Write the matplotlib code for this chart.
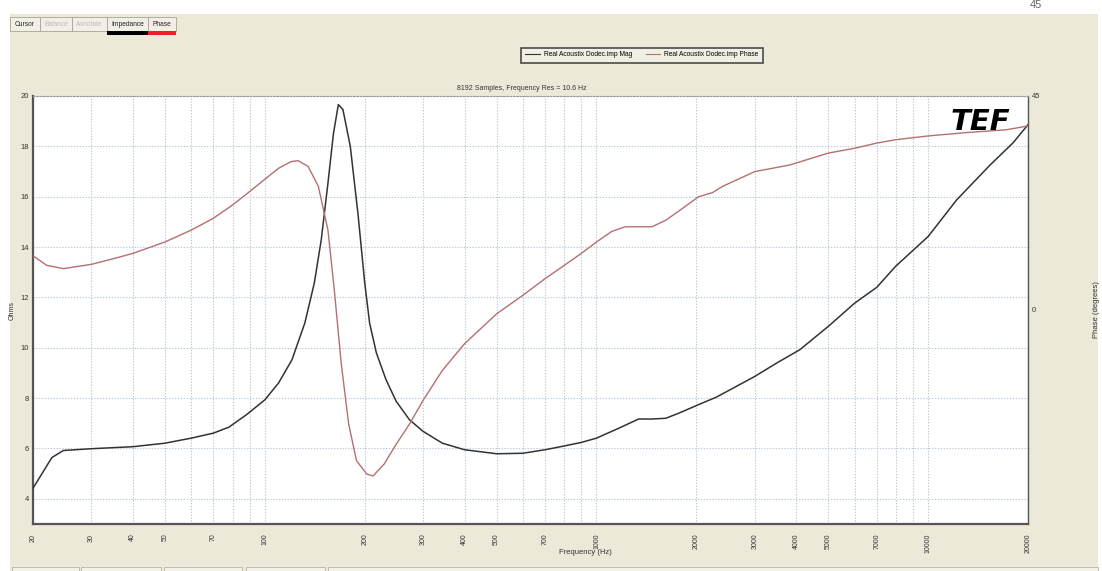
import matplotlib
matplotlib.use("Agg")
import matplotlib.pyplot as plt
from matplotlib.patches import Rectangle
from matplotlib.lines import Line2D
from matplotlib.ticker import FixedLocator, NullFormatter

plt.rcParams['font.family'] = ['Liberation Sans', 'DejaVu Sans']

# ---- data ----
mag_freq = [20, 22.8, 24.7, 30, 40, 50, 60, 70, 78, 88, 100, 110, 120.7, 132, 141,
            148, 155, 161, 166.6, 172, 181, 191, 200, 207, 217, 232, 249, 273, 300,
            343, 400, 500, 600, 700, 800, 900, 1000, 1170, 1340, 1470, 1618, 1770,
            2030, 2300, 3000, 3490, 4100, 5000, 6000, 7000, 7970, 10000, 12200,
            15400, 18000, 20000]
mag_ohms = [4.42, 5.64, 5.92, 5.99, 6.07, 6.21, 6.41, 6.61, 6.85, 7.34, 7.93, 8.6,
            9.52, 10.98, 12.57, 14.3, 16.54, 18.5, 19.66, 19.46, 18.0, 15.3, 12.6,
            10.98, 9.79, 8.73, 7.87, 7.14, 6.68, 6.21, 5.95, 5.79, 5.81, 5.95, 6.1,
            6.24, 6.41, 6.81, 7.17, 7.17, 7.2, 7.4, 7.74, 8.04, 8.86, 9.39, 9.92,
            10.85, 11.77, 12.4, 13.23, 14.42, 15.88, 17.27, 18.13, 18.86]

ph_freq = [20, 22, 24.7, 30, 35, 40, 50, 60, 70, 80, 90, 100, 110, 120, 126, 135,
           145, 155, 162, 170, 179, 189, 203, 212, 229, 249, 273, 300, 343, 400,
           500, 600, 700, 800, 900, 1000, 1110, 1220, 1310, 1470, 1620, 1820, 2030,
           2240, 2400, 3000, 3830, 5000, 6000, 7000, 7970, 10000, 13000, 17200, 20000]
ph_deg = [11.4, 9.4, 8.7, 9.6, 10.8, 11.9, 14.3, 16.8, 19.3, 22.1, 24.9, 27.5, 29.8,
          31.2, 31.4, 30.2, 26.0, 16.8, 4.2, -11.3, -24.0, -31.7, -34.5, -34.9,
          -32.4, -28.2, -24.0, -19.0, -12.7, -7.1, -0.8, 3.1, 6.6, 9.4, 11.9, 14.3,
          16.5, 17.5, 17.5, 17.5, 18.9, 21.4, 23.8, 24.7, 26.0, 29.1, 30.5, 33.0,
          34.0, 35.1, 35.8, 36.6, 37.3, 37.9, 38.7]

x_ticks = [20, 30, 40, 50, 70, 100, 200, 300, 400, 500, 700, 1000, 2000, 3000,
           4000, 5000, 7000, 10000, 20000]
x_grid = [20, 30, 40, 50, 60, 70, 80, 90, 100, 200, 300, 400, 500, 600, 700, 800,
          900, 1000, 2000, 3000, 4000, 5000, 6000, 7000, 8000, 9000, 10000, 20000]
y_ticks = [4, 6, 8, 10, 12, 14, 16, 18, 20]
ph_ticks = [0, 45]

series_names = ["Real Acoustix Dodec.imp Mag", "Real Acoustix Dodec.imp Phase"]
buttons = ["Cursor", "Balance", "Annotate", "Impedance", "Phase"]

# ---- figure ----
W, H = 1102, 571
fig = plt.figure(figsize=(W / 100, H / 100), dpi=100, facecolor='white')

def fx(px):
    return px / W

def fy(py):
    return 1 - py / H

beige = '#ece9d8'
fig.patches.append(Rectangle((fx(10), 0), fx(1098) - fx(10), fy(14), transform=fig.transFigure,
                             facecolor=beige, edgecolor='none', zorder=-10))

# page number
fig.text(fx(1036), fy(5), "45", fontsize=8, color='#666666', ha='center', va='center')

# buttons
btn_x = [10, 40, 72, 107, 148, 176]
for i, name in enumerate(buttons):
    x0, x1 = btn_x[i], btn_x[i + 1]
    fig.patches.append(Rectangle((fx(x0), fy(31)), fx(x1 - x0), (31 - 17) / H,
                                 transform=fig.transFigure, facecolor='#f1efe6',
                                 edgecolor='#a8a597', lw=0.6, zorder=-5))
    col = '#222222' if i in (0, 3, 4) else '#c0bdb0'
    fig.text(fx((x0 + x1) / 2), fy(24), name, fontsize=4.8, color=col, ha='center', va='center')
fig.patches.append(Rectangle((fx(107), fy(35)), fx(41), 4 / H, transform=fig.transFigure,
                             facecolor='black', edgecolor='none', zorder=-4))
fig.patches.append(Rectangle((fx(148), fy(35)), fx(28), 4 / H, transform=fig.transFigure,
                             facecolor='#e8202a', edgecolor='none', zorder=-4))

# bottom status panels
panels = [(12, 79), (81, 161), (164, 242), (246, 325), (328, 1098)]
for a, b in panels:
    fig.patches.append(Rectangle((fx(a), 0), fx(b - a), (571 - 567) / H,
                                 transform=fig.transFigure, facecolor='#f3f1e8',
                                 edgecolor='#b8b5a8', lw=0.6, zorder=-5))

# ---- axes ----
ax = fig.add_axes([fx(33), fy(524), fx(1028) - fx(33), fy(96) - fy(524)])
ax.set_zorder(5)
ax.set_facecolor('white')
mag_color = '#333333'
ph_color = '#b47070'
ax.plot(mag_freq, mag_ohms, color=mag_color, lw=1.1, zorder=3)
ax.set_xscale('log')
ax.set_xlim(20, 20000)
ax.set_ylim(3, 20)
ax.xaxis.set_major_locator(FixedLocator(x_ticks))
ax.xaxis.set_minor_locator(FixedLocator(x_grid))
ax.xaxis.set_minor_formatter(NullFormatter())
ax.set_xticklabels([str(t) for t in x_ticks], rotation=90, fontsize=5)
ax.set_yticks(y_ticks)
ax.set_yticklabels([str(t) for t in y_ticks], fontsize=5.5)
ax.tick_params(axis='both', which='both', length=0, pad=3, colors='#333333')
ax.tick_params(axis='x', pad=7)
grid_col = '#b9c9da'
ax.grid(True, which='both', axis='x', color=grid_col, ls=(0, (1.2, 1.4)), lw=0.8)
ax.grid(True, which='major', axis='y', color=grid_col, ls=(0, (1.2, 1.4)), lw=0.8)
ax.set_axisbelow(True)
for s in ('left', 'bottom'):
    ax.spines[s].set_color('#555555')
    ax.spines[s].set_linewidth(1.6)
ax.spines['top'].set_color('#999999')
ax.spines['top'].set_linestyle((0, (1.5, 1.5)))
ax.spines['top'].set_linewidth(0.8)
ax.spines['right'].set_color('#555555')
ax.spines['right'].set_linewidth(1.0)

ax2 = ax.twinx()
ax2.set_zorder(6)
ax2.patch.set_visible(False)
ax2.plot(ph_freq, ph_deg, color=ph_color, lw=1.0, zorder=3)
ax2.set_ylim(-45, 45)
ax2.set_yticks(ph_ticks)
ax2.set_yticklabels([str(t) for t in ph_ticks], fontsize=5.5)
ax2.tick_params(axis='y', length=0, pad=3, colors='#333333')
for s in ax2.spines.values():
    s.set_visible(False)

# labels
fig.text(fx(12), fy(310), "Ohms", rotation=90, fontsize=5, color='#333333', ha='center', va='center')
fig.text(fx(585), fy(553), "Frequency (Hz)", fontsize=5.5, color='#333333', ha='center', va='center')
fig.text(fx(1097), fy(310), "Phase (degrees)", rotation=90, fontsize=5.5, color='#333333',
         ha='center', va='center')
fig.text(fx(522), fy(89), "8192 Samples, Frequency Res = 10.6 Hz", fontsize=5, color='#333333',
         ha='center', va='center')

# TEF logo
ax2.text(0.982, 0.972, "TEF", transform=ax2.transAxes, fontsize=21, fontweight='heavy',
         fontstyle='italic', color='black', ha='right', va='top', family='DejaVu Sans')

# legend
leg = fig.legend([Line2D([], [], color=mag_color, lw=0.8), Line2D([], [], color=ph_color, lw=0.8)],
                 series_names, loc='center', bbox_to_anchor=(fx(642), fy(55)), ncol=2,
                 fontsize=4.8, frameon=True, fancybox=False, shadow=False,
                 handlelength=2.2, columnspacing=2.0, borderpad=0.6, handletextpad=0.6)
leg.get_frame().set_edgecolor('#222222')
leg.get_frame().set_linewidth(1.2)
leg.get_frame().set_facecolor('#f3f1e8')

fig.savefig("out.png", dpi=100, facecolor=fig.get_facecolor())
